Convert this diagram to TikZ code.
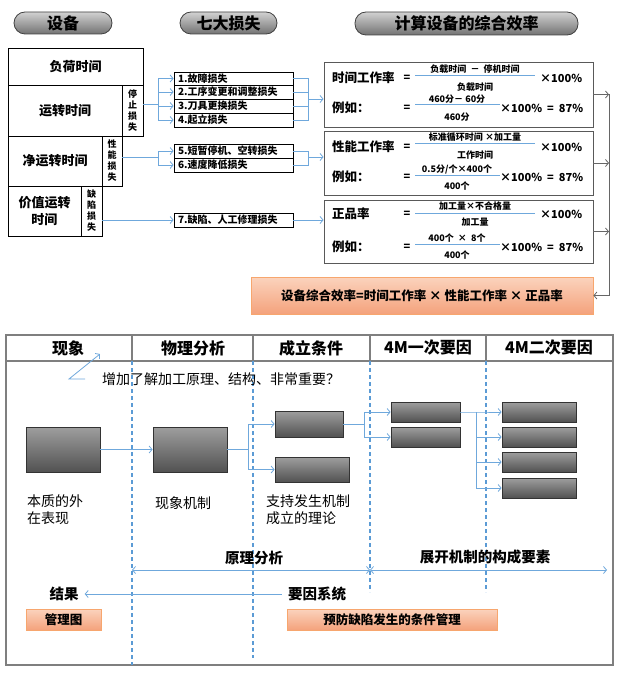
\documentclass[tikz,border=0pt]{standalone}
\usepackage{fontspec}
\setmainfont{Noto Sans CJK SC}
\usetikzlibrary{arrows.meta}

\definecolor{lineblue}{HTML}{6FA8DC}
\definecolor{dashblue}{HTML}{5B9BD5}
\definecolor{framegray}{HTML}{7F7F7F}
\definecolor{orangetop}{HTML}{FBD3BD}
\definecolor{orangebot}{HTML}{F4A27C}
\definecolor{orangeedge}{HTML}{F7A66E}

\newcommand{\fs}[1]{\fontsize{#1}{#1}\selectfont}

\tikzset{
  pill/.style={draw=black!75, line width=0.8pt, rounded corners=11pt,
    top color=black!18, bottom color=black!55, minimum height=22pt,
    inner sep=0pt, font=\fs{16}\bfseries},
  cell/.style 2 args={draw, line width=0.8pt, minimum width=#1, minimum height=#2,
    inner sep=0pt, font=\fs{13}\bfseries, align=center},
  vcell/.style 2 args={draw, line width=0.8pt, minimum width=#1, minimum height=#2,
    inner sep=0pt, font=\fontsize{9}{11}\selectfont\bfseries, align=center},
  loss/.style={draw, line width=0.8pt, minimum width=119pt, minimum height=14pt,
    inner sep=0pt, inner xsep=4pt, text width=111pt, align=left, font=\fs{10}\bfseries},
  fbox/.style={draw=black!65, line width=0.9pt, minimum width=269pt, inner sep=0pt},
  fname/.style={anchor=west, inner sep=0pt, font=\fs{12.5}\bfseries},
  fpart/.style={inner sep=0pt, font=\fs{9}\bfseries},
  fnum/.style={inner sep=0pt, font=\fs{11}\bfseries},
  fracline/.style={lineblue, line width=0.8pt},
  orangebox/.style={draw=orangeedge, line width=0.8pt, top color=orangetop,
    bottom color=orangebot, inner sep=0pt, font=\fs{12.5}\bfseries},
  graybox/.style={draw=black!80, line width=0.8pt, top color=black!38,
    bottom color=black!68, inner sep=0pt},
  blueline/.style={lineblue, line width=0.8pt},
  bluearrow/.style={blueline, -{Straight Barb[length=3pt,width=7pt]}},
  grayarrow/.style={black!60, line width=0.8pt, -{Straight Barb[length=3pt,width=7pt]}},
  dashline/.style={dashblue, line width=1.1pt, dash pattern=on 4pt off 3pt},
  headtext/.style={inner sep=0pt, font=\fs{16}\bfseries},
  bodytext/.style={inner sep=0pt, font=\fontsize{14}{17}\selectfont, align=left},
  boldtext/.style={inner sep=0pt, font=\fs{14.5}\bfseries},
}

\begin{document}
\begin{tikzpicture}[x=1pt, y=-1pt]
  \useasboundingbox (0,0) rectangle (620,687);

  % headings
  \node[pill, minimum width=98pt] (p1) at (63,23) {设备};
  \node[pill, minimum width=97pt] (p2) at (228.5,23) {七大损失};
  \node[pill, minimum width=223pt, minimum height=23pt] (p3) at (466.5,23.5) {计算设备的综合效率};

  % equipment time
  \node[cell={135pt}{37pt}] (load) at (75.5,66.5) {负荷时间};
  \node[cell={114pt}{51pt}] (run) at (65,110.5) {运转时间};
  \node[vcell={21pt}{51pt}] (stop) at (132.5,110.5) {停\\止\\损\\失};
  \node[cell={94pt}{50pt}] (net) at (55,161) {净运转时间};
  \node[vcell={20pt}{50pt}] (perf) at (112,161) {性\\能\\损\\失};
  \node[cell={73pt}{50pt}, font=\fontsize{13}{17}\selectfont\bfseries] (value) at (44.5,211) {价值运转\\时间};
  \node[vcell={21pt}{50pt}] (defect) at (91.5,211) {缺\\陷\\损\\失};

  % seven losses
  \node[loss, minimum height=13pt] (l1) at (233.5,78.5) {1.故障损失};
  \node[loss] (l2) at (233.5,92) {2.工序变更和调整损失};
  \node[loss] (l3) at (233.5,106) {3.刀具更换损失};
  \node[loss] (l4) at (233.5,120) {4.起立损失};
  \node[loss] (l5) at (233.5,151) {5.短暂停机、空转损失};
  \node[loss] (l6) at (233.5,165) {6.速度降低损失};
  \node[loss] (l7) at (233.5,220) {7.缺陷、人工修理损失};

  \draw[blueline] ([yshift=6.5pt]stop.east) -- ++(15,0) coordinate (b1);
  \foreach \n in {l1,l2,l3,l4}
    \draw[bluearrow] (b1) |- (\n.west);
  \draw[blueline] ([yshift=4pt]perf.east) -- ++(36,0) coordinate (b2);
  \foreach \n in {l5,l6}
    \draw[bluearrow] (b2) |- (\n.west);
  \draw[bluearrow] (defect.east |- l7) -- (l7.west);

  % formula boxes
  \node[fbox, minimum height=65pt] (f1) at (458.5,94.5) {};
  \node[fbox, minimum height=64pt] (f2) at (458.5,163) {};
  \node[fbox, minimum height=63pt] (f3) at (458.5,231.5) {};

  \coordinate (m1) at (308,99);
  \coordinate (m2) at (308,157);
  \foreach \n in {l1,l2,l3,l4}
    \draw[blueline] (\n.east) -| (m1);
  \draw[bluearrow] (m1) -- (f1.west |- m1);
  \foreach \n in {l5,l6}
    \draw[blueline] (\n.east) -| (m2);
  \draw[bluearrow] (m2) -- (f2.west |- m2);
  \draw[bluearrow] (l7.east) -- (f3.west |- l7);

  % time rate
  \node[fname] (r1) at (332,78) {时间工作率};
  \node[fnum] (q1) at (407,78) {=};
  \node[fpart] (n1) at (475,69) {负载时间 \ － \ 停机时间};
  \draw[fracline] (415,75) -- (535,75);
  \node[fpart] (d1) at (475,87) {负载时间};
  \node[fnum, anchor=west] (c1) at (540,78) {×100\%};
  \node[fname] (x1) at (332,108) {例如：};
  \node[fnum] (q2) at (407,108) {=};
  \node[fpart] (n2) at (457,99) {460分－ 60分};
  \draw[fracline] (415,104) -- (500,104);
  \node[fpart] (d2) at (457,117) {460分};
  \node[fnum, anchor=west] (c2) at (500,108) {×100\% \ = \ 87\%};

  % performance rate
  \node[fname] (r2) at (332,147) {性能工作率};
  \node[fnum] (q3) at (407,147) {=};
  \node[fpart] (n3) at (475,137) {标准循环时间 ×加工量};
  \draw[fracline] (415,143) -- (535,143);
  \node[fpart] (d3) at (475,155) {工作时间};
  \node[fnum, anchor=west] (c3) at (540,147) {×100\%};
  \node[fname] (x2) at (332,177) {例如：};
  \node[fnum] (q4) at (407,177) {=};
  \node[fpart] (n4) at (457,169) {0.5分/个×400个};
  \draw[fracline] (415,175) -- (500,175);
  \node[fpart] (d4) at (457,186) {400个};
  \node[fnum, anchor=west] (c4) at (500,177) {×100\% \ = \ 87\%};

  % quality rate
  \node[fname] (r3) at (332,214) {正品率};
  \node[fnum] (q5) at (407,214) {=};
  \node[fpart] (n5) at (475,206) {加工量×不合格量};
  \draw[fracline] (415,213) -- (535,213);
  \node[fpart] (d5) at (475,222) {加工量};
  \node[fnum, anchor=west] (c5) at (540,214) {×100\%};
  \node[fname] (x3) at (332,247) {例如：};
  \node[fnum] (q6) at (407,247) {=};
  \node[fpart] (n6) at (457,238) {400个 \ × \ 8个};
  \draw[fracline] (415,244) -- (500,244);
  \node[fpart] (d6) at (457,255) {400个};
  \node[fnum, anchor=west] (c6) at (500,247) {×100\% \ = \ 87\%};

  % overall efficiency
  \node[orangebox, minimum width=342pt, minimum height=37pt] (total) at (422,295.5)
    {设备综合效率=时间工作率 × 性能工作率 × 正品率};
  \coordinate (gr) at (609,0);
  \foreach \n in {f1,f2,f3}
    \draw[grayarrow] (\n.east) -- (\n.east -| gr);
  \draw[grayarrow] (f1.east -| gr) |- (total.east);

  % lower table
  \draw[framegray, line width=1.2pt] (6,335) rectangle (613,665);
  \draw[framegray, line width=1.2pt] (6,361) -- (613,361);
  \foreach \x/\n in {132/v1,253/v2,370/v3,486/v4} {
    \draw[framegray, line width=1.2pt] (\x,335) -- (\x,361);
    \coordinate (\n) at (\x,361);
  }
  \draw[dashline] (v1) -- ++(0,304);
  \draw[dashline] (v2) -- ++(0,297);
  \draw[dashline] (v3) -- ++(0,231);
  \draw[dashline] (v4) -- ++(0,231);

  \node[headtext] (h1) at (68,348) {现象};
  \node[headtext] (h2) at (193,348) {物理分析};
  \node[headtext] (h3) at (311,348) {成立条件};
  \node[headtext] (h4) at (428,348) {4M一次要因};
  \node[headtext] (h5) at (549,348) {4M二次要因};

  \node[bodytext, anchor=west] (note) at (102,379) {增加了解加工原理、结构、非常重要？};
  \coordinate (qa) at (85,379);
  \coordinate (qb) at (69,379);
  \coordinate (qc) at (100,354);
  \draw[bluearrow] (qa) -- (qb) -- (qc);

  % mechanism chain
  \node[graybox, minimum width=74pt, minimum height=45pt] (A) at (63,449.5) {};
  \node[graybox, minimum width=74pt, minimum height=45pt] (B) at (190,449.5) {};
  \node[graybox, minimum width=68pt, minimum height=26pt] (C1) at (309,424) {};
  \node[graybox, minimum width=74pt, minimum height=25pt] (C2) at (312,469.5) {};
  \node[graybox, minimum width=69pt, minimum height=20pt] (D1) at (425.5,412) {};
  \node[graybox, minimum width=69pt, minimum height=20pt] (D2) at (425.5,437) {};
  \foreach \n/\y in {E1/412,E2/437,E3/462,E4/488}
    \node[graybox, minimum width=74pt, minimum height=20pt] (\n) at (539,\y) {};

  \draw[bluearrow] (A.east) -- (B.west);
  \draw[bluearrow] (B.east) -- ++(21,0) coordinate (bc) |- (C1.west);
  \draw[bluearrow] (bc) |- (C2.west);
  \draw[bluearrow] (C1.east) -- ++(21,0) coordinate (cd) |- (D1.west);
  \draw[bluearrow] (cd) |- (D2.west);
  \draw[bluearrow] (D1.east) -- ++(16,0) coordinate (de) -- (E1.west);
  \foreach \n in {E2,E3,E4}
    \draw[bluearrow] (de) |- (\n.west);

  \node[bodytext, anchor=north west] (t1) at (27,494) {本质的外\\在表现};
  \node[bodytext, anchor=west] (t2) at (155,503) {现象机制};
  \node[bodytext, anchor=north west] (t3) at (266,494) {支持发生机制\\成立的理论};

  % analysis ranges
  \node[boldtext] (k1) at (254,558) {原理分析};
  \node[boldtext] (k2) at (485,557) {展开机制的构成要素};
  \coordinate (da) at (132,570);
  \coordinate (db) at (370,570);
  \coordinate (dc) at (607,570);
  \draw[blueline, {Straight Barb[length=3pt,width=7pt]}-{Straight Barb[length=3pt,width=7pt]}] (da) -- (db);
  \draw[blueline, {Straight Barb[length=3pt,width=7pt]}-{Straight Barb[length=3pt,width=7pt]}] (db) -- (dc);

  \node[boldtext] (res) at (64,594) {结果};
  \node[boldtext] (cause) at (317,594) {要因系统};
  \draw[bluearrow] ([xshift=-6pt]cause.west) -- ([xshift=6pt]res.east);

  \node[orangebox, minimum width=75pt, minimum height=21pt] (g1) at (63.5,619.5) {管理图};
  \node[orangebox, minimum width=210pt, minimum height=21pt] (g2) at (392,619.5) {预防缺陷发生的条件管理};
\end{tikzpicture}
\end{document}
